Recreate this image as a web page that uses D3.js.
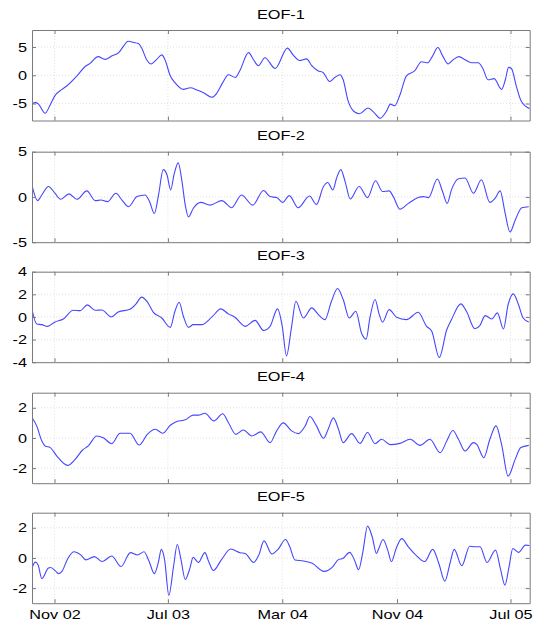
<!DOCTYPE html>
<html><head><meta charset="utf-8">
<script src="https://cdn.jsdelivr.net/npm/d3@7"></script>
<style>body{margin:0;background:#fff} svg{display:block}</style>
</head><body><svg id="c" width="538" height="624"></svg>
<script>
// ---- data ----
const startDate = "2002-11-01";            // day 0 of the day offsets below
const xDomainDays = [-48, 1014];
const xTickDates = ["2002-11-01", "2003-07-01", "2004-03-01", "2004-11-01", "2005-07-01"];
const titles = ["EOF-1", "EOF-2", "EOF-3", "EOF-4", "EOF-5"];
const yDomains = [[-8, 8], [-5, 5], [-4, 4], [-3, 3], [-3, 3]];
const yTicks = [[-5, 0, 5], [-5, 0, 5], [-4, -2, 0, 2, 4], [-2, 0, 2], [-2, 0, 2]];

const eof1Days = [-48,-41,-34,-20,-9,1,16,26,48,65,76,93,108,122,137,147,157,169,179,186,197,206,218,229,236,247,257,275,290,304,318,336,346,359,371,386,396,414,425,435,449,
  471,497,509,523,538,548,562,573,587,598,609,616,626,639,651,669,682,695,708,717,726,737,751,769,783,796,806,818,829,840,850,863,875,890,904,914,925,938,954,962,969,975,986,996,1014];
const eof1Values = [-5.1,-4.8,-5.1,-6.7,-5.2,-3.6,-2.5,-1.9,-0.1,1.5,2.1,3.3,2.8,3.4,4.0,5.1,6.0,5.8,5.6,4.8,2.7,2.0,2.8,3.6,2.7,-0.1,-1.3,-2.5,-2.2,-2.6,-3.1,-3.9,-3.2,-1.3,0.1,-0.4,0.9,4.0,2.7,1.7,3.1,
  1.2,4.8,3.6,2.6,2.9,1.8,0.8,0.5,-1.1,-0.4,0.1,-0.8,-4.4,-6.4,-6.8,-5.8,-6.6,-7.6,-6.4,-5.1,-5.4,-3.5,-0.1,0.8,2.4,2.2,3.3,4.9,3.3,2.0,2.7,3.3,2.8,2.2,2.2,1.2,-0.8,-0.6,-2.5,-0.8,1.4,1.2,-2.1,-4.6,-5.9];

const eof2Days = [-48,-36,-27,-13,1,13,31,48,69,87,99,113,131,144,158,176,193,203,213,222,232,240,248,255,264,272,279,286,296,312,332,357,378,399,423,446,460,474,487,501,520,544,559,574,583,594,602,611,620,631,650,668,685,700,714,723,737,755,776,787,798,817,828,838,847,862,876,894,911,929,940,951,961,972,983,997,1012];
const eof2Values = [1.27,-0.41,0.22,1.16,0.41,-0.26,0.34,-0.26,0.67,-0.41,-0.34,-0.52,0.41,-0.34,-1.08,0.04,0.22,-0.52,-1.83,0.22,3.02,2.46,0.78,2.46,3.77,1.72,-0.90,-2.2,-1.27,-0.60,-0.90,-0.41,-1.19,0.22,-0.90,0.71,0.04,-0.07,-0.60,0.15,-1.19,0.11,-0.82,1.16,1.60,0.78,2.09,3.02,1.72,-0.22,1.16,-0.07,1.79,0.60,0.67,0.04,-1.34,-0.71,-0.07,0.04,-0.07,1.98,0.60,-0.71,0.78,2.01,2.09,0.41,1.90,-0.60,-0.15,0.67,-1.64,-3.88,-2.57,-1.19,-1.08];

const eof3Days = [-48,-38,-27,-15,1,19,40,55,70,87,101,121,136,161,174,186,197,211,229,247,257,266,275,286,296,314,336,355,371,385,407,428,446,460,476,486,495,506,515,531,549,563,577,591,604,616,629,643,655,665,673,684,693,700,714,730,751,776,794,805,821,837,847,867,879,897,908,919,933,945,958,968,979,990,1000,1012];
const eof3Values = [0.65,-0.62,-0.68,-0.83,-0.44,-0.18,0.59,0.56,1.07,0.59,0.62,0.0,0.44,0.68,1.16,1.75,1.39,0.41,-0.09,-0.92,0.50,1.30,0.06,-0.92,-0.68,-0.68,0.0,0.71,0.27,-0.03,-0.83,-0.30,-1.19,-0.83,0.71,-0.83,-3.44,-0.83,1.39,-0.09,0.80,0.21,-0.24,1.39,2.52,1.54,-0.09,0.50,-1.42,-1.96,-0.09,1.54,0.21,-0.47,0.65,-0.03,-0.24,0.41,-0.83,-1.27,-3.59,-1.13,-0.24,1.16,0.50,-1.04,-0.74,0.12,-0.18,0.36,-1.07,1.10,2.04,1.10,-0.09,-0.44];

const eof4Days = [-48,-38,-27,-20,-9,5,28,44,60,72,90,104,122,140,161,181,198,215,231,247,261,279,296,307,321,340,359,371,387,403,421,440,460,474,488,506,520,535,545,559,574,584,595,606,616,634,652,668,684,698,716,737,759,780,801,823,837,850,862,876,894,901,916,929,942,954,968,983,995,1012];
const eof4Values = [1.36,0.80,-0.20,-0.53,-0.64,-1.20,-1.82,-1.42,-0.80,-0.53,0.13,0.02,-0.38,0.31,0.31,-0.47,0.24,0.58,0.31,0.84,1.09,1.20,1.51,1.51,1.64,1.13,1.60,1.02,0.24,0.53,0.13,0.40,-0.31,0.47,1.00,0.47,0.29,0.80,1.42,0.80,-0.02,0.58,1.33,0.58,-0.31,0.29,-0.36,0.36,-0.38,-0.09,-0.44,-0.36,-0.09,-0.49,-0.09,-0.98,-0.20,0.49,-0.09,-0.87,-0.31,-0.42,-1.31,-0.09,0.80,-0.42,-2.53,-1.42,-0.64,-0.49];

const eof5Days = [-48,-41,-35,-27,-13,-8,3,9,16,27,41,56,67,85,102,122,142,162,177,191,202,213,222,228,235,244,254,262,270,279,288,296,307,321,329,339,356,376,396,407,425,436,447,464,477,493,502,513,531,550,575,594,605,616,630,640,649,658,668,678,687,692,701,711,719,729,741,755,769,790,807,820,833,844,853,869,886,897,908,923,941,952,961,970,978,990,1005,1014];
const eof5Values = [-0.67,-0.28,-0.46,-1.37,-0.67,-0.63,-0.89,-1.04,-0.89,-0.13,0.41,0.20,-0.13,0.09,-0.24,0.13,-0.57,0.35,0.20,0.41,-0.24,-1.04,-0.24,0.57,-0.13,-2.48,-0.57,0.89,-0.13,-1.43,-0.78,0.04,-0.30,0.35,-0.24,-0.83,-0.13,0.59,0.35,0.30,-0.30,0.20,1.13,0.26,0.57,1.22,0.74,-0.13,-0.20,-0.35,-0.89,-0.57,-0.13,-0.02,0.37,-0.13,-0.78,0.41,2.11,1.39,0.30,0.63,1.22,0.52,-0.24,0.63,1.28,0.74,0.26,-0.24,0.57,-0.35,-1.54,-0.35,0.57,-0.52,0.78,0.74,0.74,-0.30,0.52,-0.78,-1.80,-0.57,0.63,0.37,0.85,0.83];

// ---- drawing ----
const series = [[eof1Days, eof1Values], [eof2Days, eof2Values], [eof3Days, eof3Values], [eof4Days, eof4Values], [eof5Days, eof5Values]];
const parse = d3.timeParse("%Y-%m-%d");
const t0 = parse(startDate);
const toDate = d => d3.timeDay.offset(t0, d);
const tickDates = xTickDates.map(parse);

const L = 32, R = 529.7;
const panelTops = [30, 151.7, 271.7, 392.7, 512.7];
const panelH = 90.5;
const SX = 1.25;               // horizontal stretch of the lettering
const FONT = "'Liberation Sans', Arial, Helvetica, sans-serif";
const FRAME = "#7a7a7a";
const GRID = "#e0e0e0";

const svg = d3.select("#c");
const x = d3.scaleTime().domain(xDomainDays.map(toDate)).range([L, R]);
const fmt = d3.timeFormat("%b %y");

function styleAxis(g) {
  g.attr("font-family", FONT).attr("font-size", 13);
  g.select(".domain").attr("stroke", FRAME);
  g.selectAll(".tick line").attr("stroke", FRAME);
  g.selectAll(".tick text").attr("fill", "#000");
}

series.forEach(([days, vals], i) => {
  const top = panelTops[i], bot = top + panelH;
  const y = d3.scaleLinear().domain(yDomains[i]).range([bot, top]);
  const g = svg.append("g");

  // grid
  g.append("g").selectAll("line").data(tickDates).join("line")
    .attr("x1", d => x(d)).attr("x2", d => x(d)).attr("y1", top).attr("y2", bot)
    .attr("stroke", GRID).attr("stroke-dasharray", "1,2");
  g.append("g").selectAll("line").data(yTicks[i]).join("line")
    .attr("x1", L).attr("x2", R).attr("y1", d => y(d)).attr("y2", d => y(d))
    .attr("stroke", GRID).attr("stroke-dasharray", "1,2");

  // clip
  const cid = "clip" + i;
  svg.append("clipPath").attr("id", cid).append("rect")
    .attr("x", L).attr("y", top).attr("width", R - L).attr("height", panelH);

  // series line
  const pts = days.map((d, k) => [toDate(d), vals[k]]);
  g.append("path").datum(pts)
    .attr("clip-path", `url(#${cid})`)
    .attr("fill", "none").attr("stroke", "#4646ff").attr("stroke-width", 1.1)
    .attr("d", d3.line().x(d => x(d[0])).y(d => y(d[1])).curve(d3.curveMonotoneX));

  // axes (ticks inward, box on)
  const gb = g.append("g").attr("transform", `translate(0,${bot})`)
    .call(d3.axisBottom(x).tickValues(tickDates).tickSizeInner(-4).tickSizeOuter(0).tickPadding(6.5)
      .tickFormat(i === 4 ? fmt : () => ""));
  styleAxis(gb);
  gb.selectAll(".tick text").attr("transform", `scale(${SX},1)`);

  const gt = g.append("g").attr("transform", `translate(0,${top})`)
    .call(d3.axisTop(x).tickValues(tickDates).tickSizeInner(-4).tickSizeOuter(0).tickFormat(() => ""));
  styleAxis(gt);

  const gl = g.append("g").attr("transform", `translate(${L},0)`)
    .call(d3.axisLeft(y).tickValues(yTicks[i]).tickSizeInner(-4).tickSizeOuter(0).tickPadding(5)
      .tickFormat(d => String(d)));
  styleAxis(gl);
  gl.selectAll(".tick text").attr("x", -5 / SX).attr("transform", `scale(${SX},1)`);

  const gr = g.append("g").attr("transform", `translate(${R},0)`)
    .call(d3.axisRight(y).tickValues(yTicks[i]).tickSizeInner(-4).tickSizeOuter(0).tickFormat(() => ""));
  styleAxis(gr);

  // title
  g.append("text")
    .attr("transform", `translate(${(L + R) / 2},${top - 11.5}) scale(${SX},1)`)
    .attr("text-anchor", "middle")
    .attr("font-family", FONT).attr("font-size", 13).attr("fill", "#000")
    .text(titles[i]);
});
</script>
</body></html>
